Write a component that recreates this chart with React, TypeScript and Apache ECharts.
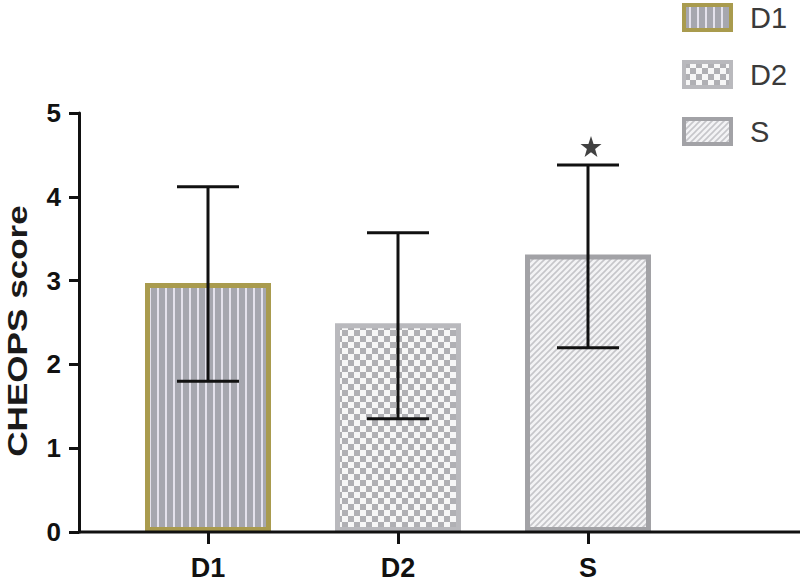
import React, { useEffect, useRef } from "react";
import * as echarts from "echarts";

const categories = ["D1", "D2", "S"];
const means = [2.97, 2.49, 3.31];
const lowerErr = [1.8, 1.35, 2.2];
const upperErr = [4.12, 3.57, 4.38];
const starMarks = [[2, 4.6]];
const yTicks = { min: 0, max: 5, interval: 1 };
const yTitle = "CHEOPS score";

function makePattern(kind: string): HTMLCanvasElement {
  const c = document.createElement("canvas");
  const ctx = c.getContext("2d")!;
  if (kind === "stripes") {
    c.width = 8; c.height = 4;
    ctx.fillStyle = "#a6a7af"; ctx.fillRect(0, 0, 8, 4);
    ctx.fillStyle = "#e4e2ec"; ctx.fillRect(5, 0, 2, 4);
  } else if (kind === "checker") {
    c.width = 12; c.height = 12;
    ctx.fillStyle = "#f7f7f7"; ctx.fillRect(0, 0, 12, 12);
    ctx.fillStyle = "#b0b0b4"; ctx.fillRect(0, 0, 6, 6); ctx.fillRect(6, 6, 6, 6);
  } else {
    c.width = 6; c.height = 6;
    ctx.fillStyle = "#f3f3f5"; ctx.fillRect(0, 0, 6, 6);
    ctx.strokeStyle = "#c6c6ca"; ctx.lineWidth = 1.6;
    ctx.beginPath();
    ctx.moveTo(-1, 7); ctx.lineTo(7, -1);
    ctx.moveTo(-4, 4); ctx.lineTo(4, -4);
    ctx.moveTo(2, 10); ctx.lineTo(10, 2);
    ctx.stroke();
  }
  return c;
}

const STAR = "path://M50,0 L61.8,35.1 L98.1,35.1 L68.8,56.9 L79.4,91.9 L50,70.5 L20.6,91.9 L31.2,56.9 L1.9,35.1 L38.2,35.1 Z";

export default function App() {
  const ref = useRef<HTMLDivElement>(null);
  useEffect(() => {
    if (!ref.current) return;
    const chart = echarts.init(ref.current, undefined, { renderer: "svg" });
    const fills = [makePattern("stripes"), makePattern("checker"), makePattern("hatch")];
    const borders = ["#a99b4e", "#b9b9bd", "#a2a2a6"];
    const font = "'Liberation Sans', Arial, sans-serif";
    const barSeries = categories.map((name, i) => ({
      name,
      type: "bar",
      barWidth: 126,
      barGap: "-100%",
      data: categories.map((_, j) => (j === i ? means[i] : null)),
      itemStyle: {
        color: { image: fills[i], repeat: "repeat" },
        borderColor: borders[i],
        borderWidth: 5,
      },
      z: 2,
    }));
    const errData = categories.map((_, i) => [i, lowerErr[i], upperErr[i]]);
    chart.setOption({
      animation: false,
      grid: { left: 113, right: 117, top: 113, bottom: 51 },
      legend: {
        orient: "vertical",
        left: 682,
        top: 3,
        padding: 0,
        itemWidth: 47,
        itemHeight: 25,
        itemGap: 28,
        icon: "rect",
        data: categories,
        textStyle: { fontSize: 29, color: "#3a3a3a", fontFamily: font, padding: [0, 0, 0, 14] },
        itemStyle: { borderWidth: 4 },
      },
      xAxis: {
        type: "category",
        data: categories,
        axisLine: { show: false },
        axisTick: { show: true, alignWithLabel: true, length: 12, lineStyle: { color: "#111", width: 3 } },
        axisLabel: { fontSize: 27, fontWeight: "bold", color: "#111", fontFamily: font, margin: 22 },
      },
      yAxis: {
        type: "value",
        ...yTicks,
        offset: 34,
        axisLine: { show: true, lineStyle: { color: "#111", width: 3 } },
        axisTick: { show: true, length: 10, lineStyle: { color: "#111", width: 3 } },
        axisLabel: { fontSize: 26, fontWeight: "bold", color: "#111", fontFamily: font, margin: 18 },
        splitLine: { show: false },
      },
      graphic: [
        { type: "line", shape: { x1: 78, y1: 532, x2: 800, y2: 532 }, style: { stroke: "#111", lineWidth: 3 }, z: 10 },
        {
          type: "text",
          x: 18,
          y: 331,
          rotation: Math.PI / 2,
          scaleX: 1.3,
          style: {
            text: yTitle,
            font: "bold 27px 'Liberation Sans', Arial, sans-serif",
            fill: "#1a1a1a",
            align: "center",
            verticalAlign: "middle",
          },
        },
      ],
      series: [
        ...barSeries,
        {
          type: "custom",
          name: "err",
          z: 5,
          data: errData,
          renderItem: (params: any, api: any) => {
            const x = api.value(0);
            const lo = api.coord([x, api.value(1)]);
            const hi = api.coord([x, api.value(2)]);
            const half = 31;
            const st = { stroke: "#111", lineWidth: 3 };
            return {
              type: "group",
              children: [
                { type: "line", shape: { x1: lo[0], y1: lo[1], x2: hi[0], y2: hi[1] }, style: st },
                { type: "line", shape: { x1: hi[0] - half, y1: hi[1], x2: hi[0] + half, y2: hi[1] }, style: st },
                { type: "line", shape: { x1: lo[0] - half, y1: lo[1], x2: lo[0] + half, y2: lo[1] }, style: st },
              ],
            };
          },
        },
        {
          type: "scatter",
          name: "star",
          data: starMarks,
          symbol: STAR,
          symbolSize: 21,
          symbolOffset: [3, 0],
          itemStyle: { color: "#111" },
          z: 6,
        },
      ],
    });
    return () => chart.dispose();
  }, []);
  return <div ref={ref} style={{ width: 800, height: 583, position: "absolute", left: 0, top: 0 }} />;
}
